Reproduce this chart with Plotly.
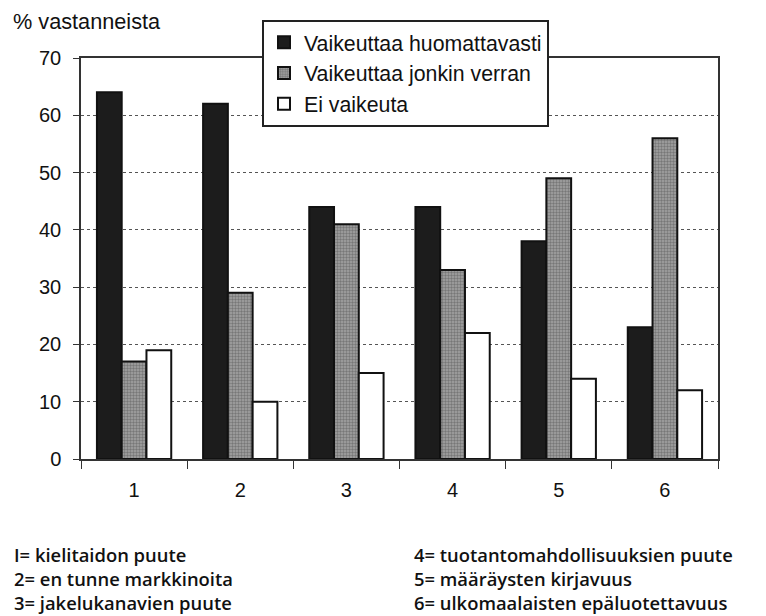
import plotly.graph_objects as go

categories = ["1", "2", "3", "4", "5", "6"]
series_names = ["Vaikeuttaa huomattavasti", "Vaikeuttaa jonkin verran", "Ei vaikeuta"]
huomattavasti = [64, 62, 44, 44, 38, 23]
jonkin_verran = [17, 29, 41, 33, 49, 56]
ei_vaikeuta = [19, 10, 15, 22, 14, 12]
y_ticks = [0, 10, 20, 30, 40, 50, 60, 70]

explanations_left = ["I= kielitaidon puute", "2= en tunne markkinoita", "3= jakelukanavien puute"]
explanations_right = ["4= tuotantomahdollisuuksien puute", "5= määräysten kirjavuus",
                      "6= ulkomaalaisten epäluotettavuus"]

font_main = "Liberation Sans, Arial, sans-serif"
font_notes = "Open Sans, Lato, sans-serif"

W, H = 766, 616
M_L, M_R, M_T, M_B = 81, 48, 58, 157
plot_h = H - M_T - M_B


def paper_y(px):
    """Convert a pixel row of the page into paper coordinates."""
    return (H - M_B - px) / plot_h


fig = go.Figure()
fig.add_trace(go.Bar(
    x=categories, y=huomattavasti, name=series_names[0], legendgroup="a",
    marker=dict(color="#1c1c1c", line=dict(color="#111", width=2)),
))
fig.add_trace(go.Bar(
    x=categories, y=jonkin_verran, name=series_names[1], legendgroup="b",
    marker=dict(color="#949494", line=dict(color="#111", width=2),
                pattern=dict(shape=".", fgcolor="#4a4a4a", bgcolor="#a4a4a4", size=3, solidity=0.5)),
))
fig.add_trace(go.Bar(
    x=categories, y=ei_vaikeuta, name=series_names[2], legendgroup="c",
    marker=dict(color="white", line=dict(color="#111", width=2)),
))

# category explanations under the chart
rows_px = [554, 578, 602]
for col_shift, texts in ((-69, explanations_left), (331, explanations_right)):
    for row, t in zip(rows_px, texts):
        fig.add_annotation(x=0, xref="paper", xanchor="left", xshift=col_shift,
                           y=paper_y(row), yref="paper", yanchor="middle",
                           text=t, showarrow=False,
                           font=dict(family=font_notes, size=18.4, color="#111", weight=600))

fig.add_annotation(x=0, xref="paper", xanchor="left", xshift=-70,
                   y=paper_y(21), yref="paper", yanchor="middle",
                   text="% vastanneista", showarrow=False,
                   font=dict(family=font_main, size=21.7, color="#111"))

fig.update_layout(
    width=W, height=H,
    margin=dict(l=M_L, r=M_R, t=M_T, b=M_B),
    paper_bgcolor="white", plot_bgcolor="white",
    font=dict(family=font_main, size=20, color="#111"),
    barmode="group", bargap=0.3, bargroupgap=0.0,
    showlegend=True,
    legend=dict(x=(262 - M_L) / (W - M_L - M_R), y=paper_y(20), xanchor="left", yanchor="top",
                bgcolor="white", bordercolor="#222", borderwidth=2,
                font=dict(family=font_main, size=21.3, color="#111"),
                itemwidth=30, tracegroupgap=13, traceorder="normal"),
    xaxis=dict(showgrid=False, showline=True, linecolor="#333", linewidth=1.5, mirror=True,
               ticks="outside", tickson="boundaries", ticklen=8, tickcolor="#333",
               ticklabelstandoff=12),
    yaxis=dict(range=[0, 70], tickvals=y_ticks, showgrid=True, gridcolor="#555", griddash="dot",
               gridwidth=1, showline=True, linecolor="#333", linewidth=1.5, mirror=True,
               ticks="outside", ticklen=6, tickcolor="#333", zeroline=False,
               ticklabelstandoff=8),
)

fig.write_html("out.html")
